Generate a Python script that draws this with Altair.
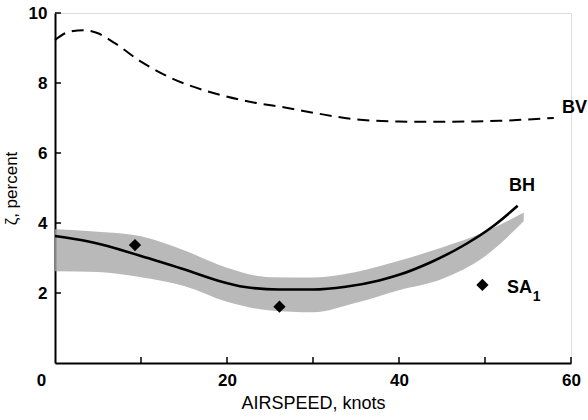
import altair as alt
import pandas as pd

# BV (dashed) curve
bv_x = [0, 1.5, 3.3, 5, 7, 10, 13.6, 17.9, 22.5, 27.2, 30.5, 35, 40, 44, 48, 51.7, 55, 58]
bv_y = [9.23, 9.45, 9.51, 9.42, 9.13, 8.61, 8.13, 7.75, 7.47, 7.28, 7.13, 6.96, 6.9, 6.89, 6.9, 6.92, 6.96, 7.0]

# BH (solid) curve
bh_x = [0, 3.9, 7, 10.9, 14.7, 18.6, 22.1, 26, 30, 33.8, 37.7, 40, 43.7, 47.8, 50.9, 53.8]
bh_y = [3.63, 3.47, 3.28, 2.99, 2.7, 2.38, 2.17, 2.1, 2.1, 2.18, 2.36, 2.52, 2.88, 3.4, 3.9, 4.49]

# scatter band
band_x = [0, 5, 10, 15, 20, 25, 30, 35, 40, 45, 50, 54.5]
band_hi = [3.82, 3.75, 3.62, 3.22, 2.72, 2.45, 2.44, 2.6, 2.92, 3.3, 3.75, 4.3]
band_lo = [2.62, 2.6, 2.45, 2.2, 1.75, 1.5, 1.45, 1.72, 2.08, 2.4, 3.05, 4.05]

# SA1 points
sa_x = [9.3, 26.1, 49.7]
sa_y = [3.37, 1.61, 2.23]

# axis ticks
x_ticks = [0, 10, 20, 30, 40, 50, 60]
y_ticks = [0, 2, 4, 6, 8, 10]

# curve labels
lab_text = ["BV", "BH", "SA"]
lab_x = [60.4, 54.3, 54.0]
lab_y = [7.3, 5.05, 2.14]

W, H = 516, 350
FONT = "Liberation Sans"

xs = alt.Scale(domain=[0, 60], nice=False)
ys = alt.Scale(domain=[0, 10], nice=False)

band_df = pd.DataFrame({"x": band_x, "lo": band_lo, "hi": band_hi})
bv_df = pd.DataFrame({"x": bv_x, "y": bv_y})
bh_df = pd.DataFrame({"x": bh_x, "y": bh_y})
sa_df = pd.DataFrame({"x": sa_x, "y": sa_y})
lab_df = pd.DataFrame({"t": lab_text, "x": lab_x, "y": lab_y})
sub_df = pd.DataFrame({"t": ["1"], "x": [56.0], "y": [1.9]})
xt_df = pd.DataFrame({"v": x_ticks[1:]})
yt_df = pd.DataFrame({"v": y_ticks[1:]})

xaxis = alt.Axis(
    values=x_ticks, ticks=False, grid=False, domainColor="black", domainWidth=2,
    labelExpr="datum.value % 20 == 0 ? datum.label : ''",
    labelFont=FONT, labelFontSize=17, labelFontWeight="bold", labelColor="black",
    labelPadding=9, labelOffset={"expr": "datum.value === 0 ? -14 : 0"},
    labelFlush=False,
    title="AIRSPEED, knots", titleFont=FONT, titleFontSize=18, titleFontWeight="normal",
    titleColor="black", titlePadding=6,
)
yaxis = alt.Axis(
    values=y_ticks, ticks=False, grid=False, domainColor="black", domainWidth=2,
    labelExpr="datum.value == 0 ? '' : datum.label",
    labelFont=FONT, labelFontSize=17, labelFontWeight="bold", labelColor="black",
    labelPadding=8,
    title="ζ, percent", titleFont=FONT, titleFontSize=17, titleFontWeight="normal",
    titleColor="black", titlePadding=8,
)

band = alt.Chart(band_df).mark_area(color="#a8a8a8", opacity=0.8, interpolate="monotone").encode(
    x=alt.X("x:Q", scale=xs, axis=xaxis),
    y=alt.Y("lo:Q", scale=ys, axis=yaxis),
    y2="hi:Q",
)
bv = alt.Chart(bv_df).mark_line(color="black", strokeWidth=2, strokeDash=[12, 7], interpolate="monotone").encode(
    x=alt.X("x:Q", scale=xs), y=alt.Y("y:Q", scale=ys)
)
bh = alt.Chart(bh_df).mark_line(color="black", strokeWidth=2.6, interpolate="monotone").encode(
    x=alt.X("x:Q", scale=xs), y=alt.Y("y:Q", scale=ys)
)
sa = alt.Chart(sa_df).mark_point(shape="diamond", filled=True, color="black", size=150, opacity=1).encode(
    x=alt.X("x:Q", scale=xs), y=alt.Y("y:Q", scale=ys)
)
labels = alt.Chart(lab_df).mark_text(font=FONT, fontSize=18, fontWeight="bold", color="black").encode(
    x=alt.X("x:Q", scale=xs), y=alt.Y("y:Q", scale=ys), text="t:N"
)
sub = alt.Chart(sub_df).mark_text(font=FONT, fontSize=14, fontWeight="bold", color="black").encode(
    x=alt.X("x:Q", scale=xs), y=alt.Y("y:Q", scale=ys), text="t:N"
)
xt = alt.Chart(xt_df).mark_rule(color="black", strokeWidth=1.5).encode(
    x=alt.X("v:Q", scale=xs), y=alt.value(H), y2=alt.value(H - 6)
)
yt = alt.Chart(yt_df).mark_rule(color="black", strokeWidth=1.5).encode(
    y=alt.Y("v:Q", scale=ys), x=alt.value(0), x2=alt.value(6)
)

chart = alt.layer(band, bv, bh, sa, labels, sub, xt, yt).properties(
    width=W, height=H,
    autosize=alt.AutoSizeParams(type="none"),
    padding={"left": 55, "top": 13, "right": 17, "bottom": 57},
).configure_view(stroke=None).configure(background="white")

chart.save("out.html", embed_options={"renderer": "svg", "actions": False})
